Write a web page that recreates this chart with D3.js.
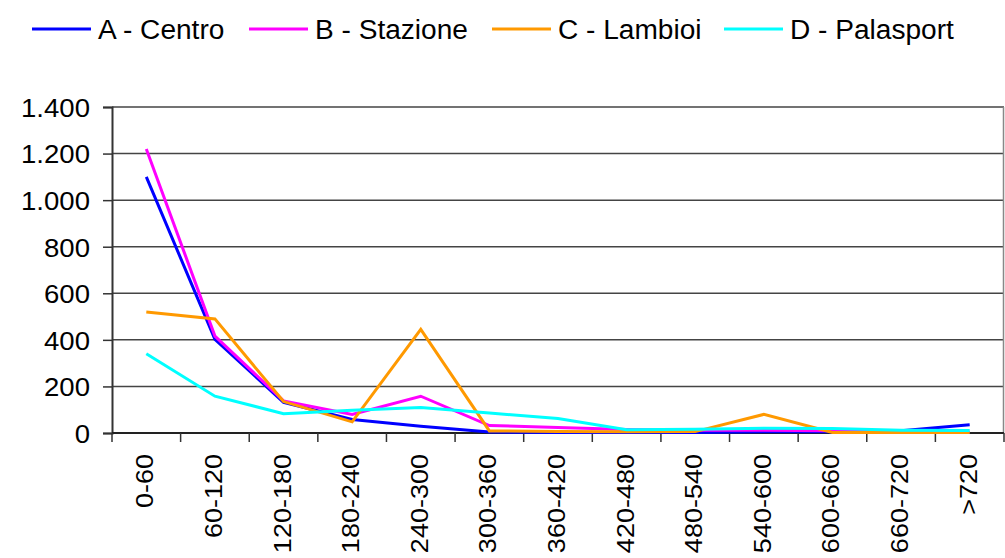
<!DOCTYPE html>
<html>
<head>
<meta charset="utf-8">
<script src="https://cdn.jsdelivr.net/npm/d3@7"></script>
<style>
  body { margin: 0; background: #fff; }
  svg { display: block; font-family: "Liberation Sans", Arial, sans-serif; }
</style>
</head>
<body>
<div id="chart"></div>
<script>
const categories = ["0-60", "60-120", "120-180", "180-240", "240-300", "300-360", "360-420",
  "420-480", "480-540", "540-600", "600-660", "660-720", ">720"];

const centro    = [1100, 402, 132, 58, 29, 4, 2, 2, 2, 5, 5, 10, 35];
const stazione  = [1220, 416, 138, 80, 158, 32, 24, 15, 12, 12, 10, 6, 4];
const lambioi   = [520, 490, 135, 48, 445, 9, 6, 5, 6, 80, 2, 2, 2];
const palasport = [340, 158, 83, 98, 110, 86, 62, 14, 16, 20, 19, 12, 11];

const seriesNames = ["A - Centro", "B - Stazione", "C - Lambioi", "D - Palasport"];
const seriesColors = ["#0000ff", "#ff00ff", "#ff9900", "#00ffff"];
const yTicks = [0, 200, 400, 600, 800, 1000, 1200, 1400];

const width = 1005, height = 558;
const series = [centro, stazione, lambioi, palasport].map((values, i) => ({
  name: seriesNames[i],
  color: seriesColors[i],
  values: values
}));

const itLocale = d3.formatLocale({ decimal: ",", thousands: ".", grouping: [3], currency: ["€", ""] });
const fmt = itLocale.format(",d");

const x = d3.scaleBand().domain(categories).range([112, 1004]);
const y = d3.scaleLinear().domain([0, 1400]).range([433, 107]);

const svg = d3.select("#chart").append("svg")
    .attr("width", width)
    .attr("height", height);

// gridlines
svg.append("g")
  .selectAll("line")
  .data(yTicks.filter(d => d > 0))
  .join("line")
    .attr("x1", 112).attr("x2", 1004)
    .attr("y1", d => y(d)).attr("y2", d => y(d))
    .attr("stroke", "#444")
    .attr("stroke-width", 1.5);

// right border of plot area
svg.append("line")
    .attr("x1", 1003.5).attr("x2", 1003.5)
    .attr("y1", y(1400)).attr("y2", y(0))
    .attr("stroke", "#888")
    .attr("stroke-width", 1.5);

// y axis
const yAxis = svg.append("g")
    .attr("transform", "translate(112,0)")
    .call(d3.axisLeft(y).tickValues(yTicks).tickFormat(fmt).tickSize(9).tickPadding(12));
yAxis.select(".domain").attr("stroke", "#333").attr("stroke-width", 2);
yAxis.selectAll(".tick line").attr("stroke", "#333").attr("stroke-width", 1.5);
yAxis.selectAll("text")
    .attr("font-size", 26)
    .attr("font-family", "Liberation Sans, Arial, sans-serif")
    .attr("fill", "#000")
    .attr("x", null)
    .attr("dy", "0.36em")
    .attr("transform", "translate(-22,0) scale(1.06,1)");

// x axis (ticks at category boundaries)
const xAxis = svg.append("g")
    .attr("transform", `translate(0,${y(0)})`);
xAxis.append("line")
    .attr("x1", 112).attr("x2", 1004)
    .attr("stroke", "#222").attr("stroke-width", 2);
xAxis.selectAll("line.tick")
  .data(categories.concat(["end"]))
  .join("line")
    .attr("class", "tick")
    .attr("x1", (d, i) => 112 + i * x.bandwidth())
    .attr("x2", (d, i) => 112 + i * x.bandwidth())
    .attr("y1", 0).attr("y2", 9)
    .attr("stroke", "#333").attr("stroke-width", 1.5);
xAxis.selectAll("text")
  .data(categories)
  .join("text")
    .attr("transform", d => `translate(${x(d) + x.bandwidth() / 2 + 7},21) rotate(-90) scale(1.15,1)`)
    .attr("text-anchor", "end")
    .attr("font-size", 23.5)
    .attr("fill", "#000")
    .text(d => d);

// lines
const line = d3.line()
    .x((d, i) => x(categories[i]) + x.bandwidth() / 2)
    .y(d => y(d));

svg.append("g")
  .selectAll("path")
  .data(series)
  .join("path")
    .attr("d", d => line(d.values))
    .attr("fill", "none")
    .attr("stroke", d => d.color)
    .attr("stroke-width", 3)
    .attr("stroke-linejoin", "miter");

// legend
const legendX = [32, 249, 492, 724];
const legend = svg.append("g")
  .selectAll("g")
  .data(series)
  .join("g")
    .attr("transform", (d, i) => `translate(${legendX[i]},29)`);
legend.append("line")
    .attr("x1", 0).attr("x2", 59)
    .attr("stroke", d => d.color)
    .attr("stroke-width", 3);
legend.append("text")
    .attr("transform", "translate(66,10) scale(1.04,1)")
    .attr("font-size", 27)
    .attr("fill", "#000")
    .text(d => d.name);
</script>
</body>
</html>
